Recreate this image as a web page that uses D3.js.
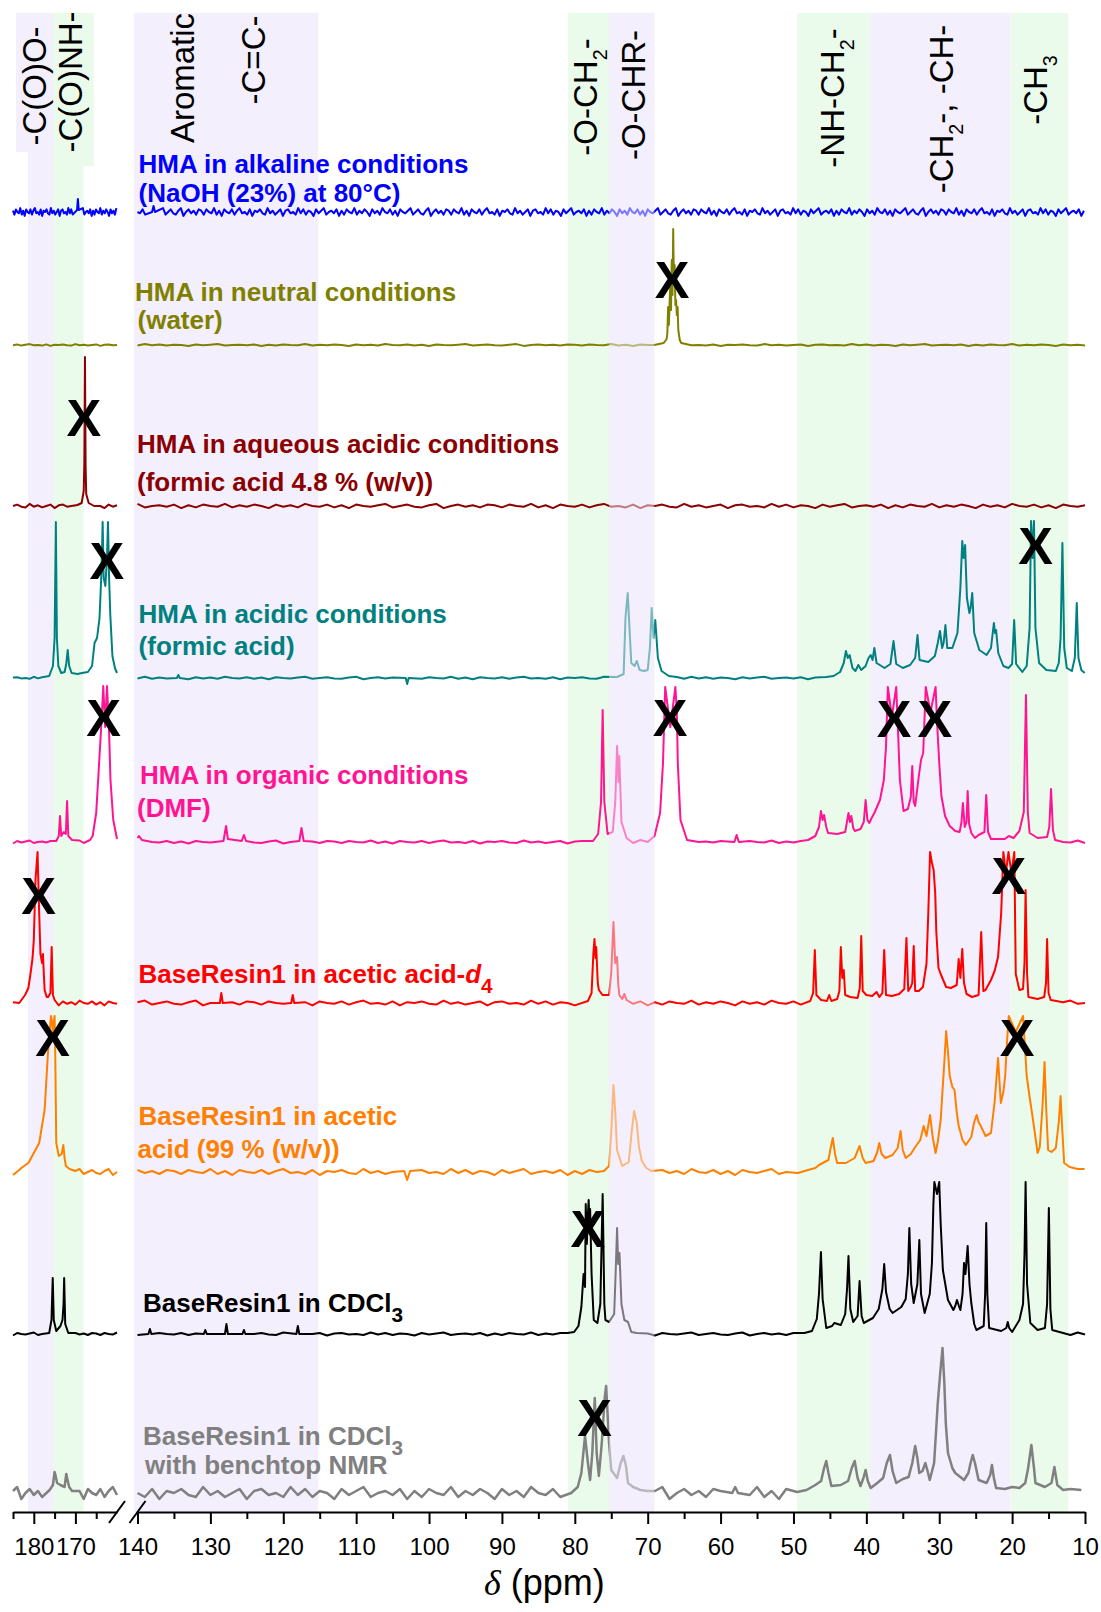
<!DOCTYPE html>
<html>
<head>
<meta charset="utf-8">
<script src="https://cdn.jsdelivr.net/npm/d3@7"></script>
<style>
  body { margin: 0; background: #fff; }
  svg { display: block; font-family: "Liberation Sans", Arial, sans-serif; }
</style>
</head>
<body>
<div id="chart"></div>
<script>
// ---- data ----
const traceNames = ["alkaline", "neutral", "aqueous acidic", "acidic", "organic",
                    "acetic-d4", "acetic 99%", "CDCl3", "CDCl3 benchtop"];
const traceColors = ["#0000ff", "#808000", "#8b0000", "#008080", "#ff1493",
                     "#ff0000", "#ff8000", "#000000", "#808080"];
const labelLines = [
  ["HMA in alkaline conditions", "(NaOH (23%) at 80°C)"],
  ["HMA in neutral conditions", "(water)"],
  ["HMA in aqueous acidic conditions", "(formic acid 4.8 % (w/v))"],
  ["HMA in acidic conditions", "(formic acid)"],
  ["HMA in organic conditions", "(DMF)"],
  ["BaseResin1 in acetic acid-*d*_4"],
  ["BaseResin1 in acetic", "acid (99 % (w/v))"],
  ["BaseResin1 in CDCl_3"],
  ["BaseResin1 in CDCl_3", "with benchtop NMR"]
];

const bandRanges = [[181.4, 175.4], [175.4, 168.0], [140.5, 115.2], [80.94, 75.3],
                    [75.3, 69.1], [49.5, 39.5], [39.5, 20.2], [20.2, 12.3]];
const bandKinds  = ["p", "g", "p", "g", "p", "g", "p", "g"];
const boxRanges  = [[184.3, 175.4], [175.4, 165.6]];
const bandLabels = ["-C(O)O-", "-C(O)NH-", "Aromatic", "-C=C-", "-O-CH_2-",
                    "-O-CHR-", "-NH-CH_2-", "-CH_2-, -CH-", "-CH_3"];
const bandLabelPpm = [179.95, 171.2, 133.9, 124.2, 78.67, 72.0, 44.7, 29.7, 16.8];

const majorLeft  = [180, 170];
const minorLeft  = [185, 175, 165];
const majorRight = [140, 130, 120, 110, 100, 90, 80, 70, 60, 50, 40, 30, 20, 10];
const minorRight = [135, 125, 115, 105, 95, 85, 75, 65, 55, 45, 35, 25, 15];

// baseline noise pattern (hand estimated)
const noise = [1,-2,2,0,-1,3,-2,1,-3,2,0,-1,2,-2,1,3,-1,0,-2,2,-3,1,0,2,-1,-2,3,-1,1,-2,
  0,2,-3,1,2,-1,0,-2,3,-1,2,-2,1,0,-3,2,-1,1,3,-2,0,1,-1,2,-3,1,-2,2,0,-1,3,-2,1,-1,2,
  0,-3,2,-1,1,-2,3,0,-1,2,-2,1,-3,2,0,-1,1,3,-2,0,2,-1,-2,1,3,-3,0,2,-1,1,-2,2];

// [ppm, intensity] points
const blueShape = [[169.6,2],[169.4,13],[169.2,2],[138.0,0],[137.8,6],[137.6,0]];
const oliveShape = [[69.1,0],[67.8,2],[67.4,6],[67.3,12],[67.2,38],[67.1,20],[67.0,40],
  [66.9,60],[66.8,35],[66.7,85],[66.6,50],[66.5,116],[66.4,60],[66.3,80],[66.2,40],
  [66.1,45],[66.0,30],[65.9,38],[65.8,15],[65.6,5],[65.4,2]];
const darkRedShape = [[169.5,1],[168.5,3],[168.0,15],[167.85,43],[167.7,149],[167.55,40],
  [167.4,12],[166.8,3],[165.5,0]];
const tealShape = [
  [176.3,2],[175.4,12],[175.0,40],[174.7,156],[174.45,40],[174.1,12],[173.4,5],[172.6,6],
  [172.2,14],[171.85,28],[171.5,12],[170.9,5],[169.5,4],[168.4,5],[167,6],[166,12],[165.4,35],
  [164.8,40],[164.2,60],[163.7,110],[163.45,156],[163.2,100],[162.8,92],[162.4,120],
  [162.17,156],[161.9,100],[161.6,62],[161.1,22],[160.5,10],[160.0,5],
  [134.6,0],[134.4,3],[134.2,0],[103.2,0],[103,-6],[102.8,0],
  [74.2,1],[73.3,4],[73.05,60],[72.74,85],[72.5,50],[72.25,15],[71.8,12],[71.5,17],[71.1,8],
  [70.5,7],[70.0,8],[69.7,30],[69.45,70],[69.2,40],[68.96,58],[68.6,20],[68.1,7],[67.1,2],[66,1],
  [45.5,1],[44.5,2],[43.6,6],[43.1,15],[42.8,27],[42.55,20],[42.3,23],[41.9,10],[41.5,7],
  [41.1,13],[40.7,8],[40.1,12],[39.7,20],[39.4,23],[39.15,18],[38.9,30],[38.6,15],[37.5,10],
  [36.7,14],[36.27,37],[35.9,14],[35.0,10],[34.0,13],[33.3,20],[32.98,43],[32.7,18],[31.5,16],
  [30.6,22],[30.2,35],[29.9,47],[29.6,30],[29.4,35],[29.15,53],[28.9,30],[28.2,30],[27.5,45],
  [27.1,90],[26.84,137],[26.65,120],[26.45,133],[26.2,80],[25.86,65],[25.7,70],[25.47,85],
  [25.2,45],[24.5,28],[23.5,23],[22.9,30],[22.5,55],[22.35,45],[22.2,48],[21.9,25],[21.2,12],
  [20.5,10],[20.0,14],[19.72,58],[19.45,14],[18.6,6],[18.0,12],[17.6,50],[17.4,157],[17.2,120],
  [17.0,157],[16.8,50],[16.3,15],[15.3,8],[14.0,7],[13.6,15],[13.35,40],[13.1,135],[12.85,30],
  [12.5,10],[11.8,7],[11.4,20],[11.13,75],[10.9,20],[10.5,8],[10.05,5]];
const pinkShape = [
  [174.6,1],[174.0,6],[173.7,26],[173.4,6],[172.8,10],[172.3,8],[172.0,41],[171.7,6],[170.8,2],
  [166.5,2],[165.85,6],[165.0,29],[164.3,79],[163.7,122],[163.3,156],[162.85,115],[162.4,156],
  [161.9,110],[161.57,62],[160.9,22],[160.0,3],
  [140,4],[139.8,6],[139.4,2],[128.2,1],[127.85,16],[127.6,3],[125.7,1],[125.4,7],[125.1,1],
  [117.8,1],[117.5,14],[117.2,1],
  [77.5,1],[76.8,8],[76.4,40],[76.18,132],[75.95,40],[75.5,8],[74.8,10],[74.45,40],[74.2,96],
  [74.0,60],[73.9,86],[73.6,20],[73.2,11],[72.9,4],[71,2],
  [69.06,6],[68.3,29],[67.9,79],[67.7,130],[67.6,155],[66.9,115],[66.2,155],[66.0,130],
  [65.87,79],[65.5,22],[64.6,2],[58.1,0],[57.8,7],[57.5,0],
  [48,2],[47.0,6],[46.5,15],[46.23,31],[46.0,22],[45.8,27],[45.5,15],[45.25,9],[44,8],[42.9,10],
  [42.45,29],[42.25,20],[42.06,26],[41.8,14],[41.57,11],[40.8,13],[40.35,20],[40.1,42],
  [39.85,22],[39.6,19],[39.2,25],[38.9,29],[38.13,42],[37.6,62],[37.3,96],[37.05,155],
  [36.5,125],[35.9,155],[35.65,110],[35.4,62],[34.9,31],[34.3,33],[33.9,45],[33.7,76],
  [33.5,40],[33.3,36],[32.8,66],[32.5,82],[32.2,89],[31.85,155],[31.2,130],[30.5,155],
  [30.3,120],[30.0,79],[29.7,46],[29.2,26],[28.56,16],[27.8,11],[27.2,10],[26.95,20],
  [26.75,39],[26.5,15],[26.25,20],[26.1,51],[25.9,18],[25.6,9],[25.1,4],[24.6,7],[23.8,10],
  [23.55,47],[23.3,10],[22.9,3],[21,3],[20.45,6],[19.8,4],[19.0,11],[18.4,30],[18.1,147],
  [17.85,30],[17.6,9],[16.5,4],[15.2,5],[14.9,15],[14.66,53],[14.4,12],[14.1,2]];
const redShape = [
  [183.5,0],[182.1,8],[181.3,15],[180.8,29],[180.3,45],[180.0,63],[179.6,123],[179.1,151],
  [178.7,89],[178.4,49],[178.0,40],[177.8,49],[177.6,30],[177.4,13],[176.9,6],[176.56,6],
  [176.0,10],[175.7,56],[175.4,8],[175.0,3],
  [128.7,0],[128.5,10],[128.3,0],[118.9,0],[118.7,8],[118.5,0],
  [78.2,2],[77.7,10],[77.45,50],[77.3,64],[77.15,45],[77.06,56],[76.85,20],[76.7,13],[76.2,8],
  [75.3,8],[75.0,30],[74.7,81],[74.45,40],[74.2,46],[74.05,20],[73.9,8],[73.5,4],[73.2,9],[72.9,3],
  [47.7,2],[47.3,10],[47.07,53],[46.85,8],[46.2,3],[45.4,2],[45.1,8],[44.8,2],
  [44.0,4],[43.7,12],[43.5,56],[43.3,25],[43.1,33],[42.9,8],[42.2,6],
  [41.2,5],[40.9,15],[40.7,67],[40.5,12],[40.0,8],[39.2,7],[38.6,11],[38.2,6],[37.8,10],
  [37.55,53],[37.3,8],[36.5,7],[35.5,9],[34.8,14],[34.5,65],[34.25,12],[33.9,16],[33.7,20],
  [33.5,57],[33.3,12],[32.8,12],[32.24,16],[31.75,39],[31.5,90],[31.26,151],[31.0,140],
  [30.77,133],[30.55,110],[30.4,71],[30.1,35],[29.8,29],[29.4,22],[29.05,16],[28.4,15],
  [27.6,18],[27.33,44],[27.1,25],[26.84,54],[26.6,20],[26.25,9],[25.5,6],[24.6,8],[24.24,71],
  [23.95,12],[23.65,13],[22.9,23],[22.4,32],[21.93,46],[21.5,90],[21.2,151],[20.85,130],
  [20.5,151],[20.1,130],[19.7,151],[19.5,29],[19.0,13],[18.5,14],[18.3,40],[18.15,113],
  [17.95,30],[17.77,6],[16.5,4],[15.6,6],[15.35,20],[15.2,64],[15.0,10],[14.7,3]];
const orangeShape = [
  [183.5,2],[183,4],[181.3,9],[180.0,19],[178.7,29],[177.4,62],[176.6,119],[176.0,150],
  [175.87,156],[175.6,150],[175.45,140],[175.2,150],[175.0,156],[174.85,120],[174.6,29],
  [174.0,16],[173.3,18],[172.9,27],[172.6,14],[172.3,6],[171.4,3],
  [103.4,1],[103,-8],[102.6,1],
  [76,1],[75.3,6],[75.0,40],[74.7,87],[74.45,60],[74.2,22],[73.5,6],[72.6,10],[72.2,40],
  [71.86,61],[71.5,49],[71.2,25],[70.8,11],[70.2,4],[69.5,1],
  [49.4,-1],[48,2],[47,4],[46.5,7],[45.2,12],[44.9,24],[44.6,34],[44.3,18],[44.0,9],[42.8,9],
  [41.6,14],[40.93,26],[40.5,14],[40.1,9],[39,11],[38.5,20],[38.23,29],[37.9,18],[37.4,14],
  [36.4,17],[35.7,24],[35.3,41],[35.0,22],[34.6,14],[33.9,18],[33.2,26],[32.6,32],[32.14,46],
  [31.75,36],[31.26,57],[30.9,35],[30.5,19],[30.2,30],[29.8,52],[29.3,110],[29.05,141],
  [28.8,120],[28.56,96],[28.2,85],[27.9,82],[27.6,60],[27.33,46],[26.8,32],[26.35,27],
  [25.6,35],[25.2,50],[24.87,57],[24.6,50],[24.3,46],[23.65,36],[22.9,39],[22.4,70],
  [21.93,114],[21.55,69],[21.2,80],[20.95,96],[20.7,130],[20.46,156],[19.5,140],[18.5,156],
  [18.0,96],[17.6,75],[17.27,59],[16.9,40],[16.5,19],[16.2,25],[15.8,70],[15.55,110],
  [15.3,60],[15.06,22],[14.6,20],[14.0,24],[13.6,50],[13.35,76],[13.1,40],[12.86,9],[12.1,5],
  [11,3],[10.05,3]];
const blackShape = [
  [176.3,1],[175.75,14],[175.45,56],[175.2,14],[174.6,3],[173.6,8],[173.1,14],[172.85,30],
  [172.7,56],[172.45,10],[171.7,1],
  [138.5,0],[138.3,5],[138.1,0],[130.9,0],[130.7,4],[130.5,0],[128.0,0],[127.8,10],[127.6,0],
  [125.6,0],[125.4,4],[125.2,0],[118.2,0],[118,8],[117.8,0],
  [81,1],[80.1,2],[79.5,8],[79.1,27],[78.8,60],[78.6,47],[78.5,130],[78.35,90],[78.2,120],
  [78.1,134],[77.95,100],[77.9,125],[77.7,60],[77.4,14],[76.9,11],[76.5,30],[76.18,140],
  [75.95,30],[75.8,14],[75.3,12],[74.6,20],[74.4,60],[74.2,106],[74.05,70],[73.87,81],
  [73.6,30],[73.2,14],[72.7,12],[72.25,2],[71.5,1],
  [48.5,1],[47.46,3],[46.8,15],[46.5,40],[46.23,82],[46.0,35],[45.5,6],[44.7,8],[44.4,11],
  [43.5,9],[42.9,20],[42.65,45],[42.45,78],[42.2,25],[41.8,12],[41.2,18],[40.93,53],
  [40.65,18],[40.35,11],[39.1,16],[38.3,25],[37.8,45],[37.55,70],[37.3,42],[36.8,25],
  [36.4,21],[35.2,27],[34.6,35],[34.3,60],[34.1,106],[33.85,50],[33.5,31],[33.0,50],
  [32.73,94],[32.5,40],[32.0,21],[31.3,40],[31.0,71],[30.8,130],[30.67,152],[30.3,140],
  [30.0,152],[29.8,110],[29.5,64],[28.8,34],[28.06,24],[27.8,28],[27.57,34],[27.3,28],
  [27.1,24],[26.8,40],[26.6,71],[26.4,60],[26.1,88],[25.85,50],[25.6,31],[25.2,10],[24.9,4],
  [23.9,8],[23.7,40],[23.55,111],[23.4,40],[23.15,6],[21.5,3],[20.8,6],[20.6,12],[20.4,6],
  [20.0,2],[19.0,14],[18.5,30],[18.3,80],[18.15,152],[17.95,50],[17.5,11],[16.5,4],[15.5,6],
  [15.2,30],[14.96,126],[14.75,25],[14.5,4],[13.5,2]];
const grayShape = [
  [176.2,3],[175.4,8],[175.0,21],[174.8,18],[174.4,10],[173.6,8],[172.6,6],[172.2,19],
  [172.0,15],[171.5,6],[170.8,2],
  [80.5,0],[79.6,6],[79.1,20],[78.6,57],[78.2,30],[77.9,13],[77.6,40],[77.26,95],[77.0,40],
  [76.7,17],[76.3,50],[75.9,95],[75.7,107],[75.3,50],[75.0,23],[74.2,15],[73.7,30],
  [73.33,37],[73.0,28],[72.7,10],[72.0,6],[71.0,3],[70.0,2],[58.4,0],[58,6],[57.6,0],
  [49.5,1],[48.2,3],[47,8],[46.2,12],[45.8,25],[45.5,32],[45.2,20],[44.8,7],[43.5,8],
  [42.5,12],[42.0,25],[41.6,32],[41.2,15],[40.8,7],[40.4,15],[40.1,23],[39.8,12],[39.4,5],
  [38.5,10],[37.7,15],[37.2,30],[36.76,38],[36.4,22],[35.9,10],[35.0,14],[34.2,16],[33.7,30],
  [33.3,47],[33.0,35],[32.73,20],[32.3,22],[31.9,30],[31.6,22],[31.3,13],[30.7,30],[30.2,90],
  [29.9,117],[29.55,145],[29.3,110],[29.1,70],[28.8,40],[28.2,25],[27.8,20],[27.1,16],
  [26.6,13],[26.0,20],[25.7,30],[25.4,38],[25.1,30],[24.6,13],[23.5,10],[23.0,18],[22.77,28],
  [22.5,15],[22.2,5],[21,4],[20,6],[19.0,5],[18.2,10],[17.8,25],[17.36,48],[17.0,25],
  [16.8,10],[15.5,6],[14.6,10],[14.2,26],[13.8,8],[13.0,3],[12,4],[10.5,3]];

const traceShapes = [blueShape, oliveShape, darkRedShape, tealShape, pinkShape,
                     redShape, orangeShape, blackShape, grayShape];

// "X" marks: trace index, ppm, height above baseline
const markTrace  = [1, 2, 3, 3, 4, 4, 4, 4, 5, 5, 6, 6, 7, 8];
const markPpm    = [66.66, 168.0, 162.46, 16.78, 163.2, 66.93, 36.2, 30.6, 178.86, 20.46,
                    175.5, 19.32, 78.2, 77.27];
const markHeight = [66, 89, 118, 133, 125, 125, 124, 124, 108, 128, 135, 135, 106, 76];

// ---- layout ----
const width = 1101, height = 1612;
const axisY = 1512, bandTop = 13;
const bases = [212, 345, 506, 678, 842, 1003, 1172, 1334, 1493];
const labelX = [[138.6,138.6],[135,137.5],[137,137],[138.6,138.6],[140,137],[138.6],
                [138.6,137.5],[143],[143,145]];
const labelY = [[173,202],[301,329],[453,491],[623,655],[784,817],[983],
                [1125,1158],[1312],[1445,1474]];
const noiseAmp  = [1.3, 0.3, 0.7, 0.4, 0.5, 0.8, 1.0, 0.5, 2.0];
const noiseStep = [0.35, 1, 1, 1, 1, 1, 1, 1, 1];
const strokeW   = [2, 2, 2, 2, 2, 2, 2, 2, 2.5];
const bandLabelY = [86, 82, 78, 60, 97, 95, 98, 109, 90];
const purple = "#f4effc", green = "#ebfbeb";
const font = "'Liberation Sans', Arial, sans-serif";

const xLeft  = d3.scaleLinear().domain([185, 160]).range([13, 117]);
const xRight = d3.scaleLinear().domain([140, 10]).range([137.5, 1085]);
const xOf = p => (p >= 150 ? xLeft(p) : xRight(p));
const yInt = d3.scaleLinear().domain([0, 100]).range([0, -100]);

const svg = d3.select("#chart").append("svg")
  .attr("width", width).attr("height", height);
svg.append("rect").attr("width", width).attr("height", height).attr("fill", "#fff");

// text with _x subscripts and *italic*
function rich(sel, str, fs, subScale, subDy) {
  let low = false;
  for (const tok of str.match(/(_.|\*[^*]+\*|[^_*]+)/g)) {
    if (tok[0] === "_") {
      sel.append("tspan").attr("dy", subDy).attr("font-size", fs * subScale).text(tok.slice(1));
      low = true;
    } else {
      const t = sel.append("tspan");
      if (low) { t.attr("dy", -subDy); low = false; }
      if (tok[0] === "*") t.attr("font-style", "italic").text(tok.slice(1, -1));
      else t.text(tok);
    }
  }
}

// Bands
const bandX = r => [xOf(r[0]), xOf(r[1])];
bandRanges.forEach((r, i) => {
  const [x0, x1] = bandX(r);
  svg.append("rect")
    .attr("x", x0).attr("y", bandTop).attr("width", x1 - x0).attr("height", axisY - bandTop)
    .attr("fill", bandKinds[i] === "p" ? purple : green);
});
boxRanges.forEach((r, i) => {
  const [x0, x1] = bandX(r);
  svg.append("rect")
    .attr("x", x0).attr("y", bandTop).attr("width", x1 - x0)
    .attr("height", (i === 0 ? 152 : 166) - bandTop)
    .attr("fill", bandKinds[i] === "p" ? purple : green);
});

// Trace labels
labelLines.forEach((lines, i) => {
  lines.forEach((s, j) => {
    const t = svg.append("text")
      .attr("x", labelX[i][j]).attr("y", labelY[i][j])
      .attr("font-size", 26).attr("font-weight", "bold")
      .attr("font-family", font)
      .attr("fill", traceColors[i]);
    rich(t, s, 26, 0.8, 10);
  });
});

// Traces
function buildTrace(shape, amp, step, off) {
  const pts = shape.slice();
  const grid = [];
  for (let p = 185; p >= 160 - 1e-9; p -= step) grid.push(p);
  for (let p = 140; p >= 10 - 1e-9; p -= step) grid.push(p);
  grid.forEach((p, k) => {
    if (!shape.some(s => Math.abs(s[0] - p) < 0.9))
      pts.push([p, amp * noise[(k + off) % noise.length]]);
  });
  pts.sort((a, b) => b[0] - a[0]);
  return [pts.filter(d => d[0] >= 150 && d[0] <= 185),
          pts.filter(d => d[0] <= 140 && d[0] >= 10)];
}

const line = d3.line().x(d => xOf(d[0])).y(d => yInt(d[1]));

traceShapes.forEach((shape, i) => {
  const g = svg.append("g").attr("transform", `translate(0,${bases[i]})`);
  buildTrace(shape, noiseAmp[i], noiseStep[i], i * 11).forEach(seg => {
    g.append("path")
      .attr("d", line(seg))
      .attr("fill", "none")
      .attr("stroke", traceColors[i])
      .attr("stroke-width", strokeW[i])
      .attr("stroke-linejoin", "round");
  });
});

// -O-CHR- band sits over the traces (fades them)
{
  const [x0, x1] = bandX(bandRanges[4]);
  svg.append("rect")
    .attr("x", x0).attr("y", bandTop).attr("width", x1 - x0).attr("height", axisY - bandTop)
    .attr("fill", purple).attr("opacity", 0.5);
}

// Band labels (rotated)
bandLabels.forEach((s, i) => {
  const t = svg.append("text")
    .attr("transform", `translate(${xOf(bandLabelPpm[i])},${bandLabelY[i]}) rotate(-90)`)
    .attr("text-anchor", "middle")
    .attr("y", 12)
    .attr("font-size", 33)
    .attr("font-family", font)
    .attr("fill", "#000");
  rich(t, s, 33, 0.6, 10);
});

// X marks
markTrace.forEach((ti, i) => {
  svg.append("text")
    .attr("x", xOf(markPpm[i]))
    .attr("y", bases[ti] + yInt(markHeight[i]) + 19)
    .attr("text-anchor", "middle")
    .attr("font-size", 52).attr("font-weight", "bold")
    .attr("font-family", font)
    .attr("fill", "#000")
    .text("X");
});

// Axis
function drawAxis(scale, major, minor) {
  const g = svg.append("g").attr("transform", `translate(0,${axisY})`);
  g.call(d3.axisBottom(scale).tickValues(major).tickSize(12).tickSizeOuter(0)
    .tickPadding(14).tickFormat(d3.format("d")));
  g.append("g")
    .call(d3.axisBottom(scale).tickValues(minor).tickSize(7).tickFormat(""))
    .select(".domain").remove();
  g.selectAll("path, line").attr("stroke", "#000").attr("stroke-width", 2);
  g.selectAll("text").attr("font-size", 24).attr("font-family", font).attr("fill", "#000");
}
drawAxis(xLeft, majorLeft, minorLeft);
drawAxis(xRight, majorRight, minorRight);

// axis break marks
[xLeft(160), xRight(140)].forEach(x => {
  svg.append("line")
    .attr("x1", x - 8).attr("y1", axisY + 11).attr("x2", x + 8).attr("y2", axisY - 11)
    .attr("stroke", "#000").attr("stroke-width", 2);
});

// Axis title
const title = svg.append("text")
  .attr("x", 484).attr("y", 1595)
  .attr("font-size", 36).attr("font-family", font).attr("fill", "#000");
title.append("tspan").attr("font-style", "italic")
  .attr("font-family", "'Liberation Serif', 'Times New Roman', serif").text("δ");
title.append("tspan").text(" (ppm)");
</script>
</body>
</html>
